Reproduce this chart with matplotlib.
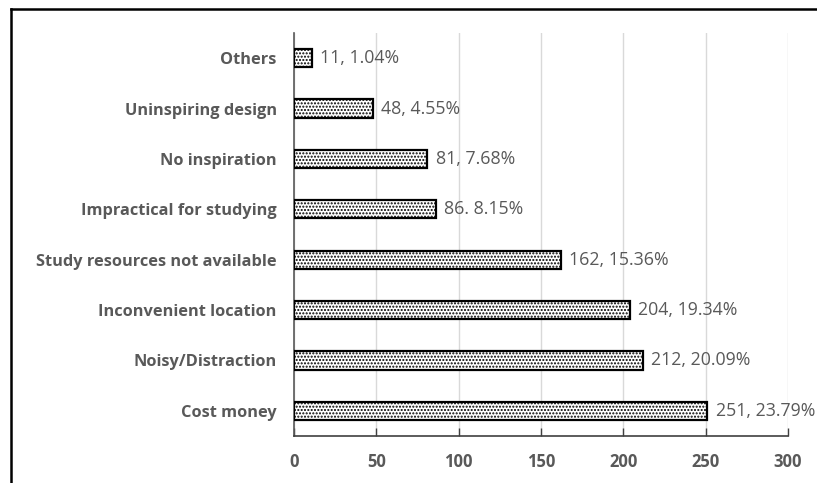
import matplotlib
matplotlib.use("Agg")
import matplotlib.pyplot as plt
from matplotlib.lines import Line2D

plt.rcParams['font.family'] = ['Open Sans', 'DejaVu Sans']
plt.rcParams['hatch.color'] = 'black'
plt.rcParams['hatch.linewidth'] = 1.0

categories = ["Cost money", "Noisy/Distraction", "Inconvenient location",
              "Study resources not available", "Impractical for studying",
              "No inspiration", "Uninspiring design", "Others"]
counts = [251, 212, 204, 162, 86, 81, 48, 11]
percents = [23.79, 20.09, 19.34, 15.36, 8.15, 7.68, 4.55, 1.04]
separators = [", ", ", ", ", ", ", ", ". ", ", ", ", ", ", "]
x_ticks = [0, 50, 100, 150, 200, 250, 300]

W, H = 817, 483
fig = plt.figure(figsize=(W / 100, H / 100), dpi=100)
ax = fig.add_axes([294 / W, (H - 436) / H, (788 - 294) / W, (436 - 33) / H])

ypos = list(range(len(categories)))
ax.barh(ypos, counts, height=0.36, color='white', edgecolor='black',
        linewidth=1.6, hatch='.....', zorder=3)

for y, c, p, s in zip(ypos, counts, percents, separators):
    ax.text(c + 5.0, y, f"{c}{s}{p:.2f}%", va='center', ha='left',
            fontsize=12.8, color='#595959', clip_on=False)

ax.set_xlim(0, 300)
ax.set_ylim(-0.5, len(categories) - 0.5)
ax.set_xticks(x_ticks)
ax.set_xticklabels([str(t) for t in x_ticks], fontweight='bold',
                   color='#595959', fontsize=12)
ax.set_yticks(ypos)
ax.set_yticklabels(categories, fontweight='bold', color='#595959', fontsize=11.8)

ax.tick_params(axis='x', direction='in', length=6, width=1.0, color='#404040', pad=12)
ax.tick_params(axis='y', length=0, pad=12.5)
ax.xaxis.grid(True, color='#d9d9d9', linewidth=1.0, zorder=0)
ax.set_axisbelow(True)

for side in ['top', 'right']:
    ax.spines[side].set_visible(False)
ax.spines['left'].set_color('#595959')
ax.spines['left'].set_linewidth(1.2)
ax.spines['bottom'].set_color('#404040')
ax.spines['bottom'].set_linewidth(1.2)

# outer frame (top and left edges)
fig.add_artist(Line2D([11 / W, 1.0], [1 - 9 / H, 1 - 9 / H], transform=fig.transFigure,
                      color='black', linewidth=1.8))
fig.add_artist(Line2D([11 / W, 11 / W], [0.0, 1 - 9 / H], transform=fig.transFigure,
                      color='black', linewidth=1.8))

fig.savefig("out.png", dpi=100)
